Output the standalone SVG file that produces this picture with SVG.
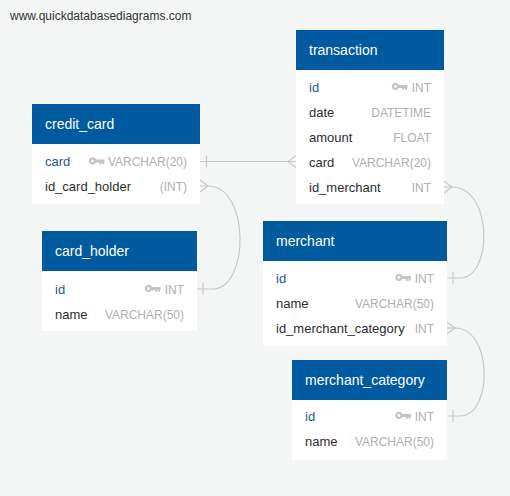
<svg xmlns="http://www.w3.org/2000/svg" xmlns:xlink="http://www.w3.org/1999/xlink" width="510" height="496" viewBox="0 0 510 496">
<defs>
<style>
text{font-family:"Liberation Sans",Arial,sans-serif}
.hdr{fill:#005aa0}
.body{fill:#ffffff}
.title{fill:#ffffff;font-size:14px}
.nm{fill:#2e2e2e;font-size:13px}
.pk{fill:#1c5a9c;font-size:13px}
.ty{fill:#b0b0b0;font-size:12px;text-anchor:end}
.wm{fill:#333333;font-size:12px}
.con{fill:none;stroke:#c8c8c8;stroke-width:1.2}
</style>
<g id="key">
<circle cx="3.4" cy="0" r="2.6" fill="none" stroke="#c4c4c4" stroke-width="2.1"/>
<path d="M5.8 -1.4 H15.5 V1.4 H15 V3.3 H13 V1.4 H12.3 V3.3 H10.3 V1.4 H5.8 Z" fill="#c4c4c4"/>
</g>
</defs>
<rect width="510" height="496" fill="#f4f5f5"/>
<text class="wm" x="10" y="20">www.quickdatabasediagrams.com</text>

<g id="connectors">
<path class="con" d="M200 161.5 H296"/>
<path class="con" d="M206.5 155.5 V167.5"/>
<path class="con" d="M296 155.5 L288 161.5 L296 167.5"/>
<path class="con" d="M200 186 H208 C250 186 250 289 212 289 H197"/>
<path class="con" d="M200 180 L208 186 L200 192"/>
<path class="con" d="M203 283 V295"/>
<path class="con" d="M444 187 H452 C493 187 493 278 460 278 H447"/>
<path class="con" d="M444 181 L452 187 L444 193"/>
<path class="con" d="M453 272 V284"/>
<path class="con" d="M447 328 H455 C493 328 493 416 460 416 H447"/>
<path class="con" d="M447 322 L455 328 L447 334"/>
<path class="con" d="M453 410 V422"/>
</g>

<g id="credit_card">
<rect class="body" x="32" y="104" width="168" height="100"/>
<rect class="hdr" x="32" y="104" width="168" height="40"/>
<text class="title" x="45" y="129">credit_card</text>
<text class="pk" x="45" y="165.5">card</text>
<use xlink:href="#key" href="#key" x="89" y="161"/>
<text class="ty" x="187" y="165.5">VARCHAR(20)</text>
<text class="nm" x="45" y="190.5">id_card_holder</text>
<text class="ty" x="187" y="190.5">(INT)</text>
</g>

<g id="transaction">
<rect class="body" x="296" y="30" width="148" height="174"/>
<rect class="hdr" x="296" y="30" width="148" height="40"/>
<text class="title" x="309" y="55">transaction</text>
<text class="pk" x="309" y="91.5">id</text>
<use xlink:href="#key" href="#key" x="392" y="86.5"/>
<text class="ty" x="431" y="91.5">INT</text>
<text class="nm" x="309" y="116.5">date</text>
<text class="ty" x="431" y="116.5">DATETIME</text>
<text class="nm" x="309" y="141.5">amount</text>
<text class="ty" x="431" y="141.5">FLOAT</text>
<text class="nm" x="309" y="166.5">card</text>
<text class="ty" x="431" y="166.5">VARCHAR(20)</text>
<text class="nm" x="309" y="191.5">id_merchant</text>
<text class="ty" x="431" y="191.5">INT</text>
</g>

<g id="card_holder">
<rect class="body" x="42" y="231" width="155" height="100"/>
<rect class="hdr" x="42" y="231" width="155" height="40"/>
<text class="title" x="55" y="256">card_holder</text>
<text class="pk" x="55" y="293.5">id</text>
<use xlink:href="#key" href="#key" x="145" y="288.5"/>
<text class="ty" x="184" y="293.5">INT</text>
<text class="nm" x="55" y="318.5">name</text>
<text class="ty" x="184" y="318.5">VARCHAR(50)</text>
</g>

<g id="merchant">
<rect class="body" x="263" y="221" width="184" height="125"/>
<rect class="hdr" x="263" y="221" width="184" height="40"/>
<text class="title" x="276" y="246">merchant</text>
<text class="pk" x="276" y="282.5">id</text>
<use xlink:href="#key" href="#key" x="395.5" y="277.5"/>
<text class="ty" x="434" y="282.5">INT</text>
<text class="nm" x="276" y="307.5">name</text>
<text class="ty" x="434" y="307.5">VARCHAR(50)</text>
<text class="nm" x="276" y="332.5">id_merchant_category</text>
<text class="ty" x="434" y="332.5">INT</text>
</g>

<g id="merchant_category">
<rect class="body" x="292" y="360" width="155" height="100"/>
<rect class="hdr" x="292" y="360" width="155" height="40"/>
<text class="title" x="305" y="385">merchant_category</text>
<text class="pk" x="305" y="420.5">id</text>
<use xlink:href="#key" href="#key" x="395.5" y="415.5"/>
<text class="ty" x="434" y="420.5">INT</text>
<text class="nm" x="305" y="445.5">name</text>
<text class="ty" x="434" y="445.5">VARCHAR(50)</text>
</g>
</svg>
